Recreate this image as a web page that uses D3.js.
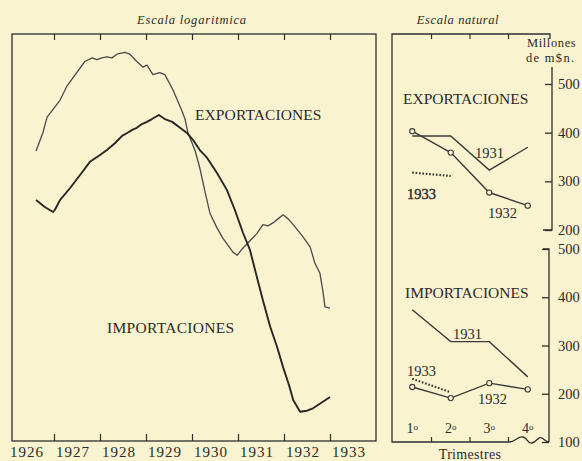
<!DOCTYPE html>
<html><head><meta charset="utf-8">
<script src="https://cdn.jsdelivr.net/npm/d3@7"></script>
<style>
html,body{margin:0;padding:0;background:#faf3cf;}
svg{display:block;}
text{font-family:"Liberation Serif","Times New Roman",serif;fill:#2a2a2a;}
</style></head><body>
<svg id="chart" width="582" height="461"></svg>
<script>
// ---- Monthly trade, millions m$n (log panel) ----
const years = [1926, 1927, 1928, 1929, 1930, 1931, 1932, 1933];
const exportDates = [1926.61,1926.76,1926.85,1927.13,1927.28,1927.67,1927.83,1927.93,1928.04,1928.15,1928.26,1928.37,1928.54,1928.65,1928.80,1928.93,1929.02,1929.15,1929.30,1929.41,1929.59,1929.78,1929.85,1929.91,1930.07,1930.17,1930.28,1930.39,1930.54,1930.67,1930.89,1930.98,1931.09,1931.22,1931.41,1931.54,1931.65,1931.76,1931.87,1931.98,1932.09,1932.20,1932.41,1932.57,1932.67,1932.78,1932.85,1932.89,1933.00];
const exportValues = [147,155,162,170,177,190,192,191,192,192.5,192,194,195,194,190,187,188,183,184,183,175,165,161,155,147,140,131,123,118,114.5,110,109,111,113,116,119,118.6,119.6,121,122.4,121,119,115,111.6,106.6,103.6,98,94,93.7];
const importDates = [1926.61,1926.80,1926.98,1927.02,1927.13,1927.35,1927.57,1927.78,1928.00,1928.15,1928.33,1928.48,1928.59,1928.70,1928.80,1928.91,1929.02,1929.13,1929.28,1929.41,1929.57,1929.74,1929.89,1930.02,1930.17,1930.33,1930.54,1930.76,1930.93,1931.11,1931.26,1931.41,1931.54,1931.70,1931.85,1931.98,1932.11,1932.20,1932.35,1932.50,1932.63,1932.78,1933.00];
const importValues = [127.7,125.2,123.4,124.2,127.7,132.2,137.3,142.5,145.3,147.4,150.4,153.5,154.8,156.2,157.1,158.8,159.8,161.1,163.0,161.1,159.8,157.1,154.8,151.8,147.4,144.1,138.1,131.4,124.2,116.2,110.7,102.4,95.9,88.8,83.8,79.1,75.1,72.0,69.6,69.8,70.3,71.2,72.6];

// ---- Quarterly trade, millions m$n (natural panel) ----
const quarters = ["1", "2", "3", "4"];
const exp1931 = [393, 393, 323, 370];
const exp1932 = [403, 359, 277, 250];
const exp1933 = [318, 311];
const imp1931 = [374, 308, 308, 235];
const imp1932 = [214, 191, 222, 209];
const imp1933 = [231, 203];
const expTicks = [200, 300, 400, 500];
const impTicks = [100, 200, 300, 400, 500];

const ink = "#2e2e2e";
const svg = d3.select("#chart");
svg.append("rect").attr("width", 582).attr("height", 461).attr("fill", "#faf3cf");

// ===== Left panel: logarithmic scale =====
const x = d3.scaleLinear().domain([1926, 1934]).range([8, 376]);
const y = d3.scaleLog().domain([64, 205]).range([441, 35]);
const L = {left: 12, right: 376, top: 34, bottom: 441};

svg.append("rect")
  .attr("x", L.left).attr("y", L.top)
  .attr("width", L.right - L.left).attr("height", L.bottom - L.top)
  .attr("fill", "none").attr("stroke", ink).attr("stroke-width", 1.3);

const tickYears = years.slice(1);
svg.append("g").attr("transform", `translate(0,${L.top})`)
  .call(d3.axisBottom(x).tickValues(tickYears).tickSize(6).tickFormat(""))
  .call(g => g.select(".domain").remove())
  .call(g => g.selectAll("line").attr("stroke", ink).attr("stroke-width", 1.2));
svg.append("g").attr("transform", `translate(0,${L.bottom})`)
  .call(d3.axisTop(x).tickValues(tickYears).tickSize(7).tickFormat(""))
  .call(g => g.select(".domain").remove())
  .call(g => g.selectAll("line").attr("stroke", ink).attr("stroke-width", 1.2));

svg.append("g").selectAll("text").data(years).join("text")
  .attr("x", d => x(d) + 2).attr("y", 457)
  .attr("font-size", 15).attr("letter-spacing", 1)
  .text(d => d);

svg.append("text").attr("x", 192).attr("y", 24).attr("text-anchor", "middle")
  .attr("font-size", 12.5).attr("font-style", "italic").attr("letter-spacing", 0.8)
  .text("Escala logaritmica");

const line = d3.line().x(d => x(d[0])).y(d => y(d[1]));
svg.append("path").datum(d3.zip(exportDates, exportValues))
  .attr("d", line).attr("fill", "none").attr("stroke", "#4a4a4a").attr("stroke-width", 1.3)
  .attr("stroke-linejoin", "round");
svg.append("path").datum(d3.zip(importDates, importValues))
  .attr("d", line).attr("fill", "none").attr("stroke", "#262626").attr("stroke-width", 1.9)
  .attr("stroke-linejoin", "round");

svg.append("text").attr("x", 195).attr("y", 120).attr("font-size", 15.5).attr("letter-spacing", 0.1)
  .text("EXPORTACIONES");
svg.append("text").attr("x", 107).attr("y", 333).attr("font-size", 15.5).attr("letter-spacing", 0.3)
  .text("IMPORTACIONES");

// ===== Right panel: natural scale =====
const xq = d3.scaleBand().domain(quarters).range([393, 547]);
const qc = q => xq(q) + xq.bandwidth() / 2;
const yE = d3.scaleLinear().domain([200, 500]).range([230, 84]);
const yI = d3.scaleLinear().domain([100, 500]).range([442, 249]);
const R = {left: 392, top: 34, bottom: 442, right: 550};

// frame: left, top, bottom with break mark
svg.append("path")
  .attr("d", `M${R.right},${R.top + 5}V${R.top}H${R.left}V${R.bottom}H${xq("4") + 1}` +
    ` C515,442 518,436 523,437 C528,438 527,444 532,443 C537,442 538,436 542,438 C545,440 546,442 549,442`)
  .attr("fill", "none").attr("stroke", ink).attr("stroke-width", 1.3);

const qBounds = quarters.slice(1).map(q => xq(q));
svg.append("g").selectAll("line").data(qBounds).join("line")
  .attr("x1", d => d).attr("x2", d => d).attr("y1", R.top).attr("y2", R.top + 5)
  .attr("stroke", ink).attr("stroke-width", 1.2);
svg.append("g").selectAll("line").data(qBounds).join("line")
  .attr("x1", d => d).attr("x2", d => d).attr("y1", R.bottom).attr("y2", R.bottom - 5)
  .attr("stroke", ink).attr("stroke-width", 1.2);

// value axes on the right
const axE = svg.append("g").attr("transform", "translate(552,0)")
  .call(d3.axisRight(yE).tickValues(expTicks).tickSize(-7).tickPadding(6).tickFormat(d3.format("d")));
axE.select(".domain").attr("d", `M-9,${yE(200)}H0V67`);
const axI = svg.append("g").attr("transform", "translate(549,0)")
  .call(d3.axisRight(yI).tickValues(impTicks).tickSize(-7).tickPadding(9).tickFormat(d3.format("d")));
axI.select(".domain").attr("d", `M-6,${yI(500)}H0V${yI(100)}`);
[axE, axI].forEach(a => {
  a.selectAll("path,line").attr("stroke", ink).attr("stroke-width", 1.3).attr("fill", "none");
  a.selectAll("text").attr("font-size", 14.5).attr("fill", "#2a2a2a")
    .attr("font-family", '"Liberation Serif",serif');
});

svg.append("text").attr("x", 527).attr("y", 47).attr("font-size", 12.5).attr("letter-spacing", 0.6).text("Millones");
svg.append("text").attr("x", 526).attr("y", 62).attr("font-size", 12.5).attr("letter-spacing", 1.3).text("de m$n.");

svg.append("text").attr("x", 458).attr("y", 24).attr("text-anchor", "middle")
  .attr("font-size", 12.5).attr("font-style", "italic").attr("letter-spacing", 0.6)
  .text("Escala natural");

// quarter labels
const ql = svg.append("g").selectAll("text").data(quarters).join("text")
  .attr("x", d => qc(d)).attr("y", 433).attr("text-anchor", "middle").attr("font-size", 14);
ql.append("tspan").text(d => d);
ql.append("tspan").attr("font-size", 9).attr("dy", -3).text("o");
svg.append("text").attr("x", 470).attr("y", 459).attr("text-anchor", "middle")
  .attr("font-size", 14).attr("letter-spacing", 0.3).text("Trimestres");

function series(vals, yS, opts) {
  const pts = vals.map((v, i) => [qc(quarters[i]), yS(v)]);
  svg.append("path").datum(pts).attr("d", d3.line())
    .attr("fill", "none").attr("stroke", opts.color || "#3a3a3a")
    .attr("stroke-width", opts.width || 1.4)
    .attr("stroke-dasharray", opts.dash || null);
  if (opts.dots) {
    svg.append("g").selectAll("circle").data(pts).join("circle")
      .attr("cx", d => d[0]).attr("cy", d => d[1]).attr("r", 2.6)
      .attr("fill", "#faf3cf").attr("stroke", "#3a3a3a").attr("stroke-width", 1.1);
  }
}
series(exp1931, yE, {});
series(exp1932, yE, {dots: true});
series(exp1933, yE, {dash: "1.6,1.8", width: 2.2, color: "#333"});
series(imp1931, yI, {});
series(imp1932, yI, {dots: true});
series(imp1933, yI, {dash: "1.6,1.8", width: 2.2, color: "#333"});

const lbl = (t, xx, yy, fs) => svg.append("text").attr("x", xx).attr("y", yy)
  .attr("font-size", fs).text(t);
lbl("EXPORTACIONES", 403, 104, 15.5);
lbl("1931", 475, 158, 14.5);
lbl("1933", 407, 199, 14.5).attr("stroke", "#2a2a2a").attr("stroke-width", 0.4);
lbl("1932", 488, 218, 14.5);
lbl("IMPORTACIONES", 405, 298, 15.5);
lbl("1931", 453, 339, 14.5);
lbl("1933", 407, 376, 14.5);
lbl("1932", 478, 404, 14.5);
</script>
</body></html>
